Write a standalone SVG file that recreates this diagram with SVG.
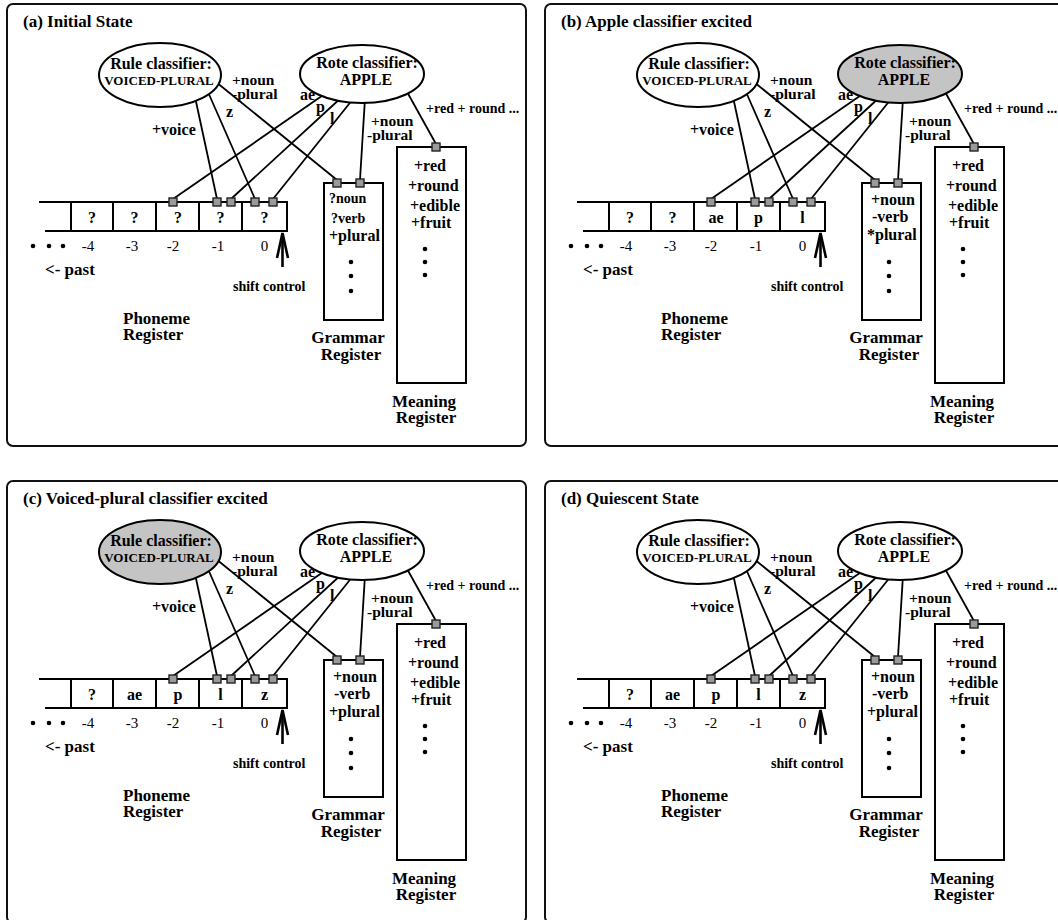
<svg xmlns="http://www.w3.org/2000/svg" width="1058" height="920" viewBox="0 0 1058 920">
<style>
.bg{fill:#fff}
.frame{fill:none;stroke:#111;stroke-width:2}
.ln{stroke:#000;stroke-width:1.8;fill:none}
.arr{stroke:#000;stroke-width:2.6;fill:none}
.box{fill:#fff;stroke:#000;stroke-width:2}
.reg{fill:none;stroke:#000;stroke-width:2}
.ell{fill:#fff;stroke:#000;stroke-width:2}
.on{fill:#c4c4c4}
.pad{fill:#9a9a9a;stroke:#222;stroke-width:1.4}
.dot{fill:#000}
text{font-family:"Liberation Serif","Times New Roman",serif;font-weight:bold;fill:#000}
.t17{font-size:17px}
.t16{font-size:16px}
.t15{font-size:15.5px}
.t14{font-size:14px}
.t13{font-size:13px}
.num{font-weight:normal;font-size:15px}
.m{text-anchor:middle}
</style>
<rect class="bg" x="0" y="0" width="1058" height="920"/>

<!-- ================= PANEL A ================= -->
<g id="panel-a">
<rect class="frame" x="7" y="4" width="519" height="442" rx="6"/>
<text class="t17" x="23" y="27">(a) Initial State</text>
<g id="a-connectors">
<line class="ln" x1="216" y1="82" x2="337" y2="180"/>
<line class="ln" x1="195" y1="97" x2="217" y2="199"/>
<line class="ln" x1="208" y1="92" x2="255" y2="199"/>
<line class="ln" x1="329" y1="91" x2="173" y2="199"/>
<line class="ln" x1="343" y1="96" x2="231" y2="199"/>
<line class="ln" x1="353" y1="99" x2="273" y2="199"/>
<line class="ln" x1="365" y1="98" x2="360" y2="180"/>
<line class="ln" x1="406" y1="90" x2="436" y2="144"/>
<line class="arr" x1="282.5" y1="267" x2="282.5" y2="234"/>
<polyline class="arr" points="277,258 282.5,233 288,258"/>
</g>
<g id="a-rule"><ellipse class="ell" cx="160" cy="75" rx="61" ry="32"/><text class="t16 m" x="161" y="69">Rule classifier:</text><text class="t13 m" x="159" y="85">VOICED-PLURAL</text></g>
<g id="a-rote"><ellipse class="ell" cx="362" cy="74" rx="62" ry="29"/><text class="t16 m" x="367" y="68">Rote classifier:</text><text class="t16 m" x="366" y="85">APPLE</text></g>
<g id="a-labels">
<text class="t15" x="232" y="85">+noun</text><text class="t15" x="232" y="99">-plural</text>
<text class="t16" x="226" y="117">z</text>
<text class="t16" x="152" y="135">+voice</text>
<text class="t16" x="300" y="100">ae</text><text class="t16" x="316" y="112">p</text><text class="t16" x="330" y="124">l</text>
<text class="t15" x="371" y="126">+noun</text><text class="t15" x="367" y="140">-plural</text>
<text class="t14" x="426" y="113">+red + round ...</text>
</g>
<g id="a-phoneme">
<path class="reg" d="M39 202H287V231H45M71 202V231M113 202V231M156 202V231M199 202V231M242 202V231"/>
<rect class="pad" x="169" y="198" width="8" height="8"/><rect class="pad" x="213" y="198" width="8" height="8"/><rect class="pad" x="227" y="198" width="8" height="8"/><rect class="pad" x="251" y="198" width="8" height="8"/><rect class="pad" x="269" y="198" width="8" height="8"/>
<text class="t16 m" x="92" y="223">?</text><text class="t16 m" x="134.5" y="223">?</text><text class="t16 m" x="178" y="223">?</text><text class="t16 m" x="220.5" y="223">?</text><text class="t16 m" x="264.5" y="223">?</text>
<circle class="dot" cx="33" cy="246" r="2.3"/><circle class="dot" cx="49" cy="246" r="2.3"/><circle class="dot" cx="63" cy="246" r="2.3"/>
<text class="num m" x="88" y="251">-4</text><text class="num m" x="132" y="251">-3</text><text class="num m" x="173" y="251">-2</text><text class="num m" x="218" y="251">-1</text><text class="num m" x="264.5" y="251">0</text>
<text class="t17" x="45" y="275">&lt;- past</text>
<text class="t14" x="233" y="291">shift control</text>
<text class="t17" x="123" y="324">Phoneme</text><text class="t17" x="123" y="340">Register</text>
</g>
<g id="a-grammar">
<rect class="box" x="324" y="183" width="59" height="137"/>
<rect class="pad" x="333" y="179" width="8" height="8"/><rect class="pad" x="356" y="179" width="8" height="8"/>
<text class="t14" x="329" y="203">?noun</text><text class="t14" x="331" y="223">?verb</text><text class="t16" x="329" y="241">+plural</text>
<circle class="dot" cx="351" cy="262" r="2.3"/><circle class="dot" cx="351" cy="276" r="2.3"/><circle class="dot" cx="351" cy="291" r="2.3"/>
<text class="t17 m" x="348" y="343">Grammar</text><text class="t17 m" x="351" y="360">Register</text>
</g>
<g id="a-meaning">
<rect class="box" x="397" y="147" width="69" height="236"/>
<rect class="pad" x="432" y="143" width="8" height="8"/>
<text class="t16" x="414" y="171">+red</text><text class="t16" x="408" y="191">+round</text><text class="t16" x="410" y="211">+edible</text><text class="t16" x="411" y="228">+fruit</text>
<circle class="dot" cx="425" cy="249" r="2.3"/><circle class="dot" cx="425" cy="262" r="2.3"/><circle class="dot" cx="425" cy="275" r="2.3"/>
<text class="t17 m" x="424" y="407">Meaning</text><text class="t17 m" x="426" y="423">Register</text>
</g>
</g>

<!-- ================= PANEL B ================= -->
<g id="panel-b" transform="translate(538,0)">
<rect class="frame" x="7" y="4" width="519" height="442" rx="6"/>
<text class="t17" x="23" y="27">(b) Apple classifier excited</text>
<g id="b-connectors">
<line class="ln" x1="216" y1="82" x2="337" y2="180"/>
<line class="ln" x1="195" y1="97" x2="217" y2="199"/>
<line class="ln" x1="208" y1="92" x2="255" y2="199"/>
<line class="ln" x1="329" y1="91" x2="173" y2="199"/>
<line class="ln" x1="343" y1="96" x2="231" y2="199"/>
<line class="ln" x1="353" y1="99" x2="273" y2="199"/>
<line class="ln" x1="365" y1="98" x2="360" y2="180"/>
<line class="ln" x1="406" y1="90" x2="436" y2="144"/>
<line class="arr" x1="282.5" y1="267" x2="282.5" y2="234"/>
<polyline class="arr" points="277,258 282.5,233 288,258"/>
</g>
<g id="b-rule"><ellipse class="ell" cx="160" cy="75" rx="61" ry="32"/><text class="t16 m" x="161" y="69">Rule classifier:</text><text class="t13 m" x="159" y="85">VOICED-PLURAL</text></g>
<g id="b-rote"><ellipse class="ell on" cx="362" cy="74" rx="62" ry="29"/><text class="t16 m" x="367" y="68">Rote classifier:</text><text class="t16 m" x="366" y="85">APPLE</text></g>
<g id="b-labels">
<text class="t15" x="232" y="85">+noun</text><text class="t15" x="232" y="99">-plural</text>
<text class="t16" x="226" y="117">z</text>
<text class="t16" x="152" y="135">+voice</text>
<text class="t16" x="300" y="100">ae</text><text class="t16" x="316" y="112">p</text><text class="t16" x="330" y="124">l</text>
<text class="t15" x="371" y="126">+noun</text><text class="t15" x="367" y="140">-plural</text>
<text class="t14" x="426" y="113">+red + round ...</text>
</g>
<g id="b-phoneme">
<path class="reg" d="M39 202H287V231H45M71 202V231M113 202V231M156 202V231M199 202V231M242 202V231"/>
<rect class="pad" x="169" y="198" width="8" height="8"/><rect class="pad" x="213" y="198" width="8" height="8"/><rect class="pad" x="227" y="198" width="8" height="8"/><rect class="pad" x="251" y="198" width="8" height="8"/><rect class="pad" x="269" y="198" width="8" height="8"/>
<text class="t16 m" x="92" y="223">?</text><text class="t16 m" x="134.5" y="223">?</text><text class="t16 m" x="178" y="223">ae</text><text class="t16 m" x="220.5" y="223">p</text><text class="t16 m" x="264.5" y="223">l</text>
<circle class="dot" cx="33" cy="246" r="2.3"/><circle class="dot" cx="49" cy="246" r="2.3"/><circle class="dot" cx="63" cy="246" r="2.3"/>
<text class="num m" x="88" y="251">-4</text><text class="num m" x="132" y="251">-3</text><text class="num m" x="173" y="251">-2</text><text class="num m" x="218" y="251">-1</text><text class="num m" x="264.5" y="251">0</text>
<text class="t17" x="45" y="275">&lt;- past</text>
<text class="t14" x="233" y="291">shift control</text>
<text class="t17" x="123" y="324">Phoneme</text><text class="t17" x="123" y="340">Register</text>
</g>
<g id="b-grammar">
<rect class="box" x="324" y="183" width="59" height="137"/>
<rect class="pad" x="333" y="179" width="8" height="8"/><rect class="pad" x="356" y="179" width="8" height="8"/>
<text class="t16" x="333" y="205">+noun</text><text class="t16" x="334" y="222">-verb</text><text class="t16" x="329" y="240">*plural</text>
<circle class="dot" cx="351" cy="262" r="2.3"/><circle class="dot" cx="351" cy="276" r="2.3"/><circle class="dot" cx="351" cy="291" r="2.3"/>
<text class="t17 m" x="348" y="343">Grammar</text><text class="t17 m" x="351" y="360">Register</text>
</g>
<g id="b-meaning">
<rect class="box" x="397" y="147" width="69" height="236"/>
<rect class="pad" x="432" y="143" width="8" height="8"/>
<text class="t16" x="414" y="171">+red</text><text class="t16" x="408" y="191">+round</text><text class="t16" x="410" y="211">+edible</text><text class="t16" x="411" y="228">+fruit</text>
<circle class="dot" cx="425" cy="249" r="2.3"/><circle class="dot" cx="425" cy="262" r="2.3"/><circle class="dot" cx="425" cy="275" r="2.3"/>
<text class="t17 m" x="424" y="407">Meaning</text><text class="t17 m" x="426" y="423">Register</text>
</g>
</g>

<!-- ================= PANEL C ================= -->
<g id="panel-c" transform="translate(0,477)">
<rect class="frame" x="7" y="4" width="519" height="442" rx="6"/>
<text class="t17" x="23" y="27">(c) Voiced-plural classifier excited</text>
<g id="c-connectors">
<line class="ln" x1="216" y1="82" x2="337" y2="180"/>
<line class="ln" x1="195" y1="97" x2="217" y2="199"/>
<line class="ln" x1="208" y1="92" x2="255" y2="199"/>
<line class="ln" x1="329" y1="91" x2="173" y2="199"/>
<line class="ln" x1="343" y1="96" x2="231" y2="199"/>
<line class="ln" x1="353" y1="99" x2="273" y2="199"/>
<line class="ln" x1="365" y1="98" x2="360" y2="180"/>
<line class="ln" x1="406" y1="90" x2="436" y2="144"/>
<line class="arr" x1="282.5" y1="267" x2="282.5" y2="234"/>
<polyline class="arr" points="277,258 282.5,233 288,258"/>
</g>
<g id="c-rule"><ellipse class="ell on" cx="160" cy="75" rx="61" ry="32"/><text class="t16 m" x="161" y="69">Rule classifier:</text><text class="t13 m" x="159" y="85">VOICED-PLURAL</text></g>
<g id="c-rote"><ellipse class="ell" cx="362" cy="74" rx="62" ry="29"/><text class="t16 m" x="367" y="68">Rote classifier:</text><text class="t16 m" x="366" y="85">APPLE</text></g>
<g id="c-labels">
<text class="t15" x="232" y="85">+noun</text><text class="t15" x="232" y="99">-plural</text>
<text class="t16" x="226" y="117">z</text>
<text class="t16" x="152" y="135">+voice</text>
<text class="t16" x="300" y="100">ae</text><text class="t16" x="316" y="112">p</text><text class="t16" x="330" y="124">l</text>
<text class="t15" x="371" y="126">+noun</text><text class="t15" x="367" y="140">-plural</text>
<text class="t14" x="426" y="113">+red + round ...</text>
</g>
<g id="c-phoneme">
<path class="reg" d="M39 202H287V231H45M71 202V231M113 202V231M156 202V231M199 202V231M242 202V231"/>
<rect class="pad" x="169" y="198" width="8" height="8"/><rect class="pad" x="213" y="198" width="8" height="8"/><rect class="pad" x="227" y="198" width="8" height="8"/><rect class="pad" x="251" y="198" width="8" height="8"/><rect class="pad" x="269" y="198" width="8" height="8"/>
<text class="t16 m" x="92" y="223">?</text><text class="t16 m" x="134.5" y="223">ae</text><text class="t16 m" x="178" y="223">p</text><text class="t16 m" x="220.5" y="223">l</text><text class="t16 m" x="264.5" y="223">z</text>
<circle class="dot" cx="33" cy="246" r="2.3"/><circle class="dot" cx="49" cy="246" r="2.3"/><circle class="dot" cx="63" cy="246" r="2.3"/>
<text class="num m" x="88" y="251">-4</text><text class="num m" x="132" y="251">-3</text><text class="num m" x="173" y="251">-2</text><text class="num m" x="218" y="251">-1</text><text class="num m" x="264.5" y="251">0</text>
<text class="t17" x="45" y="275">&lt;- past</text>
<text class="t14" x="233" y="291">shift control</text>
<text class="t17" x="123" y="324">Phoneme</text><text class="t17" x="123" y="340">Register</text>
</g>
<g id="c-grammar">
<rect class="box" x="324" y="183" width="59" height="137"/>
<rect class="pad" x="333" y="179" width="8" height="8"/><rect class="pad" x="356" y="179" width="8" height="8"/>
<text class="t16" x="333" y="205">+noun</text><text class="t16" x="334" y="222">-verb</text><text class="t16" x="329" y="240">+plural</text>
<circle class="dot" cx="351" cy="262" r="2.3"/><circle class="dot" cx="351" cy="276" r="2.3"/><circle class="dot" cx="351" cy="291" r="2.3"/>
<text class="t17 m" x="348" y="343">Grammar</text><text class="t17 m" x="351" y="360">Register</text>
</g>
<g id="c-meaning">
<rect class="box" x="397" y="147" width="69" height="236"/>
<rect class="pad" x="432" y="143" width="8" height="8"/>
<text class="t16" x="414" y="171">+red</text><text class="t16" x="408" y="191">+round</text><text class="t16" x="410" y="211">+edible</text><text class="t16" x="411" y="228">+fruit</text>
<circle class="dot" cx="425" cy="249" r="2.3"/><circle class="dot" cx="425" cy="262" r="2.3"/><circle class="dot" cx="425" cy="275" r="2.3"/>
<text class="t17 m" x="424" y="407">Meaning</text><text class="t17 m" x="426" y="423">Register</text>
</g>
</g>

<!-- ================= PANEL D ================= -->
<g id="panel-d" transform="translate(538,477)">
<rect class="frame" x="7" y="4" width="519" height="442" rx="6"/>
<text class="t17" x="23" y="27">(d) Quiescent State</text>
<g id="d-connectors">
<line class="ln" x1="216" y1="82" x2="337" y2="180"/>
<line class="ln" x1="195" y1="97" x2="217" y2="199"/>
<line class="ln" x1="208" y1="92" x2="255" y2="199"/>
<line class="ln" x1="329" y1="91" x2="173" y2="199"/>
<line class="ln" x1="343" y1="96" x2="231" y2="199"/>
<line class="ln" x1="353" y1="99" x2="273" y2="199"/>
<line class="ln" x1="365" y1="98" x2="360" y2="180"/>
<line class="ln" x1="406" y1="90" x2="436" y2="144"/>
<line class="arr" x1="282.5" y1="267" x2="282.5" y2="234"/>
<polyline class="arr" points="277,258 282.5,233 288,258"/>
</g>
<g id="d-rule"><ellipse class="ell" cx="160" cy="75" rx="61" ry="32"/><text class="t16 m" x="161" y="69">Rule classifier:</text><text class="t13 m" x="159" y="85">VOICED-PLURAL</text></g>
<g id="d-rote"><ellipse class="ell" cx="362" cy="74" rx="62" ry="29"/><text class="t16 m" x="367" y="68">Rote classifier:</text><text class="t16 m" x="366" y="85">APPLE</text></g>
<g id="d-labels">
<text class="t15" x="232" y="85">+noun</text><text class="t15" x="232" y="99">-plural</text>
<text class="t16" x="226" y="117">z</text>
<text class="t16" x="152" y="135">+voice</text>
<text class="t16" x="300" y="100">ae</text><text class="t16" x="316" y="112">p</text><text class="t16" x="330" y="124">l</text>
<text class="t15" x="371" y="126">+noun</text><text class="t15" x="367" y="140">-plural</text>
<text class="t14" x="426" y="113">+red + round ...</text>
</g>
<g id="d-phoneme">
<path class="reg" d="M39 202H287V231H45M71 202V231M113 202V231M156 202V231M199 202V231M242 202V231"/>
<rect class="pad" x="169" y="198" width="8" height="8"/><rect class="pad" x="213" y="198" width="8" height="8"/><rect class="pad" x="227" y="198" width="8" height="8"/><rect class="pad" x="251" y="198" width="8" height="8"/><rect class="pad" x="269" y="198" width="8" height="8"/>
<text class="t16 m" x="92" y="223">?</text><text class="t16 m" x="134.5" y="223">ae</text><text class="t16 m" x="178" y="223">p</text><text class="t16 m" x="220.5" y="223">l</text><text class="t16 m" x="264.5" y="223">z</text>
<circle class="dot" cx="33" cy="246" r="2.3"/><circle class="dot" cx="49" cy="246" r="2.3"/><circle class="dot" cx="63" cy="246" r="2.3"/>
<text class="num m" x="88" y="251">-4</text><text class="num m" x="132" y="251">-3</text><text class="num m" x="173" y="251">-2</text><text class="num m" x="218" y="251">-1</text><text class="num m" x="264.5" y="251">0</text>
<text class="t17" x="45" y="275">&lt;- past</text>
<text class="t14" x="233" y="291">shift control</text>
<text class="t17" x="123" y="324">Phoneme</text><text class="t17" x="123" y="340">Register</text>
</g>
<g id="d-grammar">
<rect class="box" x="324" y="183" width="59" height="137"/>
<rect class="pad" x="333" y="179" width="8" height="8"/><rect class="pad" x="356" y="179" width="8" height="8"/>
<text class="t16" x="333" y="205">+noun</text><text class="t16" x="334" y="222">-verb</text><text class="t16" x="329" y="240">+plural</text>
<circle class="dot" cx="351" cy="262" r="2.3"/><circle class="dot" cx="351" cy="276" r="2.3"/><circle class="dot" cx="351" cy="291" r="2.3"/>
<text class="t17 m" x="348" y="343">Grammar</text><text class="t17 m" x="351" y="360">Register</text>
</g>
<g id="d-meaning">
<rect class="box" x="397" y="147" width="69" height="236"/>
<rect class="pad" x="432" y="143" width="8" height="8"/>
<text class="t16" x="414" y="171">+red</text><text class="t16" x="408" y="191">+round</text><text class="t16" x="410" y="211">+edible</text><text class="t16" x="411" y="228">+fruit</text>
<circle class="dot" cx="425" cy="249" r="2.3"/><circle class="dot" cx="425" cy="262" r="2.3"/><circle class="dot" cx="425" cy="275" r="2.3"/>
<text class="t17 m" x="424" y="407">Meaning</text><text class="t17 m" x="426" y="423">Register</text>
</g>
</g>
</svg>
